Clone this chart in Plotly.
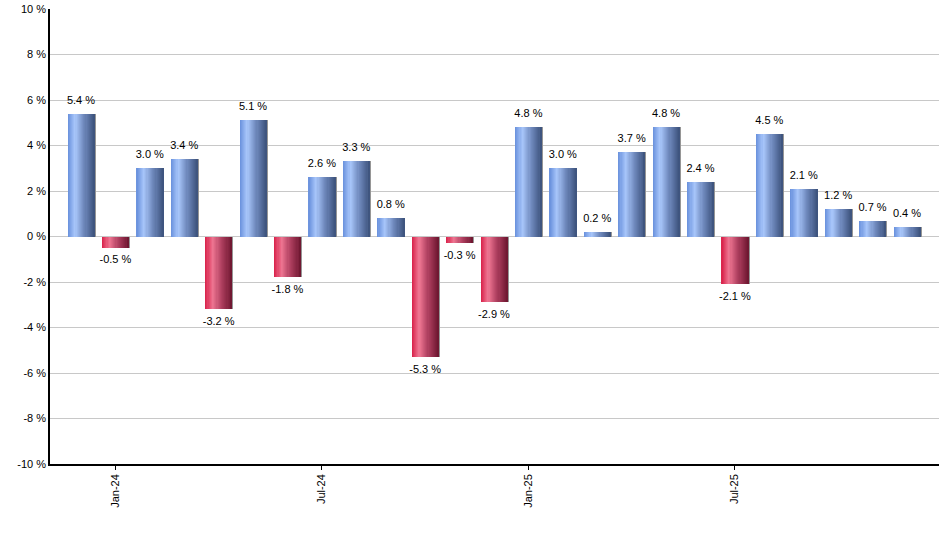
import plotly.graph_objects as go

months = ["Dec-23", "Jan-24", "Feb-24", "Mar-24", "Apr-24", "May-24", "Jun-24",
          "Jul-24", "Aug-24", "Sep-24", "Oct-24", "Nov-24", "Dec-24",
          "Jan-25", "Feb-25", "Mar-25", "Apr-25", "May-25", "Jun-25",
          "Jul-25", "Aug-25", "Sep-25", "Oct-25", "Nov-25", "Dec-25"]
returns = [5.4, -0.5, 3.0, 3.4, -3.2, 5.1, -1.8, 2.6, 3.3, 0.8, -5.3, -0.3, -2.9,
           4.8, 3.0, 0.2, 3.7, 4.8, 2.4, -2.1, 4.5, 2.1, 1.2, 0.7, 0.4]
tick_months = ["Jan-24", "Jul-24", "Jan-25", "Jul-25"]
y_ticks = [-10, -8, -6, -4, -2, 0, 2, 4, 6, 8, 10]
y_tick_labels = [f"{v} %" for v in y_ticks]

FONT = "Liberation Sans, Arial, sans-serif"
BAR_W = 0.78
N_SLICES = 24

blue_stops = [(0.0, (104, 144, 220)), (0.28, (168, 198, 250)), (0.6, (112, 138, 190)), (1.0, (60, 82, 124))]
red_stops = [(0.0, (216, 32, 72)), (0.28, (238, 118, 146)), (0.6, (176, 64, 96)), (1.0, (110, 22, 48))]


def interp(stops, t):
    for (t0, c0), (t1, c1) in zip(stops[:-1], stops[1:]):
        if t0 <= t <= t1:
            f = (t - t0) / (t1 - t0) if t1 > t0 else 0
            c = [round(a + (b - a) * f) for a, b in zip(c0, c1)]
            return f"rgb({c[0]},{c[1]},{c[2]})"
    c = stops[-1][1]
    return f"rgb({c[0]},{c[1]},{c[2]})"


fig = go.Figure()

# shadow on right edge
fig.add_trace(go.Bar(
    x=months, y=returns, width=BAR_W, offset=-BAR_W / 2 + 0.035,
    marker=dict(color="rgb(150,150,150)", line=dict(width=0)),
    hoverinfo="skip", showlegend=False,
))

sw = BAR_W / N_SLICES
for i in range(N_SLICES):
    t = (i + 0.5) / N_SLICES
    colors = [interp(blue_stops, t) if v >= 0 else interp(red_stops, t) for v in returns]
    fig.add_trace(go.Bar(
        x=months, y=returns, width=BAR_W - i * sw,
        offset=-BAR_W / 2 + i * sw,
        marker=dict(color=colors, line=dict(width=0)),
        hoverinfo="skip", showlegend=False,
    ))

fig.add_trace(go.Scatter(
    x=months, y=returns, mode="markers+text",
    marker=dict(size=10, color="rgba(0,0,0,0)"),
    text=[f"{v:.1f} %" for v in returns],
    textposition=["top center" if v >= 0 else "bottom center" for v in returns],
    textfont=dict(family=FONT, size=11, color="black"),
    hoverinfo="skip", showlegend=False, cliponaxis=False,
))

fig.update_layout(
    width=940, height=550,
    margin=dict(l=50, r=1, t=9, b=86, autoexpand=False),
    paper_bgcolor="white", plot_bgcolor="white",
    barmode="overlay", bargap=0,
    font=dict(family=FONT, size=11, color="black"),
)
fig.update_xaxes(
    type="category", range=[-0.9, 24.93], automargin=False,
    tickmode="array", tickvals=tick_months, ticktext=tick_months,
    tickangle=-90, ticks="outside", ticklen=4, tickcolor="black", tickwidth=1,
    showline=True, linecolor="black", linewidth=1.5, showgrid=False,
    tickfont=dict(family=FONT, size=11, color="black"),
)
fig.update_yaxes(
    range=[-10, 10], automargin=False,
    tickmode="array", tickvals=y_ticks, ticktext=y_tick_labels,
    showline=True, linecolor="black", linewidth=1.5,
    showgrid=True, gridcolor="rgb(200,200,200)", gridwidth=1,
    zeroline=True, zerolinecolor="rgb(200,200,200)", zerolinewidth=1,
    ticks="", ticklabelstandoff=0,
    tickfont=dict(family=FONT, size=11, color="black"),
)

fig.write_html("out.html", config={"displayModeBar": False},
               post_script="document.body.style.margin='0';")
